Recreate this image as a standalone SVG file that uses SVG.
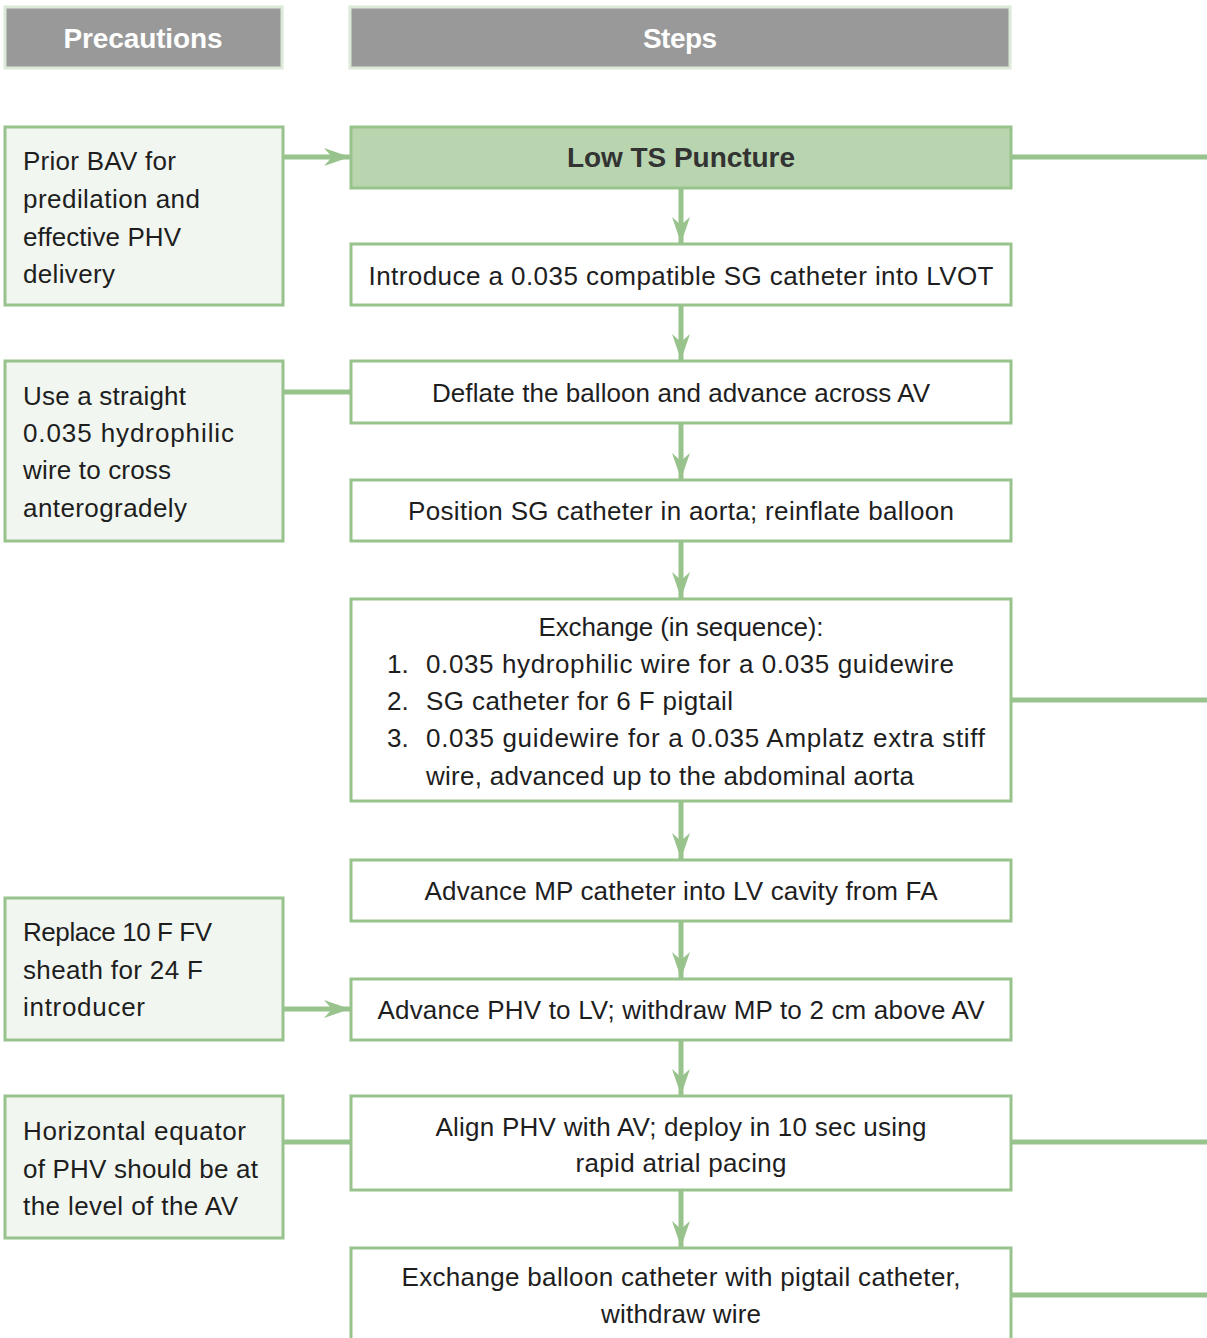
<svg xmlns="http://www.w3.org/2000/svg" width="1207" height="1338" viewBox="0 0 1207 1338">
<style>
.hdr{fill:#999999;stroke:#dce9d8;stroke-width:3}
.hdrt{font-family:"Liberation Sans",Arial,sans-serif;font-size:28px;font-weight:bold;fill:#ffffff;text-anchor:middle}
.pre{fill:#f1f6f0;stroke:#98c38d;stroke-width:3}
.step{fill:#ffffff;stroke:#98c38d;stroke-width:3}
.key{fill:#b9d5b0;stroke:#98c38d;stroke-width:3}
.t{font-family:"Liberation Sans",Arial,sans-serif;font-size:26px;fill:#1e1e1e}
.c{text-anchor:middle}
.b{font-weight:bold;font-size:28px;fill:#333333}
.ln{stroke:#98c38d;stroke-width:5;fill:none}
.ar{stroke:#98c38d;stroke-width:5;fill:none;marker-end:url(#ah)}
</style>
<defs>
<marker id="ah" markerUnits="userSpaceOnUse" markerWidth="30" markerHeight="20" refX="26" refY="10" orient="auto" viewBox="0 0 30 20">
<path d="M0,1 L26,10 L0,19 L8,10 Z" fill="#98c38d"/>
</marker>
</defs>
<rect width="1207" height="1338" fill="#ffffff"/>
<g id="connectors">
<line class="ar" x1="283" y1="157" x2="350" y2="157"/>
<line class="ln" x1="1011" y1="157" x2="1207" y2="157"/>
<line class="ar" x1="681" y1="188" x2="681" y2="243"/>
<line class="ar" x1="681" y1="305" x2="681" y2="360"/>
<line class="ln" x1="283" y1="392" x2="351" y2="392"/>
<line class="ar" x1="681" y1="423" x2="681" y2="479"/>
<line class="ar" x1="681" y1="541" x2="681" y2="598"/>
<line class="ln" x1="1011" y1="700" x2="1207" y2="700"/>
<line class="ar" x1="681" y1="801" x2="681" y2="859"/>
<line class="ar" x1="681" y1="921" x2="681" y2="978"/>
<line class="ar" x1="283" y1="1009" x2="350" y2="1009"/>
<line class="ar" x1="681" y1="1040" x2="681" y2="1095"/>
<line class="ln" x1="283" y1="1142" x2="351" y2="1142"/>
<line class="ln" x1="1011" y1="1142" x2="1207" y2="1142"/>
<line class="ar" x1="681" y1="1190" x2="681" y2="1247"/>
<line class="ln" x1="1011" y1="1295" x2="1207" y2="1295"/>
</g>
<g id="hdr-precautions">
<rect class="hdr" x="5" y="7" width="277" height="61"/>
<text class="hdrt" x="143" y="48" textLength="159">Precautions</text>
</g>
<g id="hdr-steps">
<rect class="hdr" x="350" y="7" width="660" height="61"/>
<text class="hdrt" x="680" y="48" textLength="74">Steps</text>
</g>
<g id="pre1">
<rect class="pre" x="5" y="127" width="278" height="178"/>
<text class="t" x="23" y="170" textLength="153">Prior BAV for</text>
<text class="t" x="23" y="208" textLength="177">predilation and</text>
<text class="t" x="23" y="246" textLength="158">effective PHV</text>
<text class="t" x="23" y="283" textLength="92">delivery</text>
</g>
<g id="pre2">
<rect class="pre" x="5" y="361" width="278" height="180"/>
<text class="t" x="23" y="405" textLength="163">Use a straight</text>
<text class="t" x="23" y="442" textLength="211">0.035 hydrophilic</text>
<text class="t" x="23" y="479" textLength="148">wire to cross</text>
<text class="t" x="23" y="517" textLength="164">anterogradely</text>
</g>
<g id="pre3">
<rect class="pre" x="5" y="898" width="278" height="142"/>
<text class="t" x="23" y="941" textLength="189">Replace 10 F FV</text>
<text class="t" x="23" y="979" textLength="180">sheath for 24 F</text>
<text class="t" x="23" y="1016" textLength="122">introducer</text>
</g>
<g id="pre4">
<rect class="pre" x="5" y="1096" width="278" height="142"/>
<text class="t" x="23" y="1140" textLength="223">Horizontal equator</text>
<text class="t" x="23" y="1178" textLength="235">of PHV should be at</text>
<text class="t" x="23" y="1215" textLength="215">the level of the AV</text>
</g>
<g id="s1">
<rect class="key" x="351" y="127" width="660" height="61"/>
<text class="t c b" x="681" y="167" textLength="228">Low TS Puncture</text>
</g>
<g id="s2">
<rect class="step" x="351" y="244" width="660" height="61"/>
<text class="t c" x="681" y="285" textLength="625">Introduce a 0.035 compatible SG catheter into LVOT</text>
</g>
<g id="s3">
<rect class="step" x="351" y="361" width="660" height="62"/>
<text class="t c" x="681" y="402" textLength="498">Deflate the balloon and advance across AV</text>
</g>
<g id="s4">
<rect class="step" x="351" y="480" width="660" height="61"/>
<text class="t c" x="681" y="520" textLength="546">Position SG catheter in aorta; reinflate balloon</text>
</g>
<g id="s5">
<rect class="step" x="351" y="599" width="660" height="202"/>
<text class="t c" x="681" y="636" textLength="285">Exchange (in sequence):</text>
<text class="t" x="387" y="673">1.</text>
<text class="t" x="426" y="673" textLength="528">0.035 hydrophilic wire for a 0.035 guidewire</text>
<text class="t" x="387" y="710">2.</text>
<text class="t" x="426" y="710" textLength="307">SG catheter for 6 F pigtail</text>
<text class="t" x="387" y="747">3.</text>
<text class="t" x="426" y="747" textLength="559">0.035 guidewire for a 0.035 Amplatz extra stiff</text>
<text class="t" x="426" y="785" textLength="488">wire, advanced up to the abdominal aorta</text>
</g>
<g id="s6">
<rect class="step" x="351" y="860" width="660" height="61"/>
<text class="t c" x="681" y="900" textLength="513">Advance MP catheter into LV cavity from FA</text>
</g>
<g id="s7">
<rect class="step" x="351" y="979" width="660" height="61"/>
<text class="t c" x="681" y="1019" textLength="607">Advance PHV to LV; withdraw MP to 2 cm above AV</text>
</g>
<g id="s8">
<rect class="step" x="351" y="1096" width="660" height="94"/>
<text class="t c" x="681" y="1136" textLength="491">Align PHV with AV; deploy in 10 sec using</text>
<text class="t c" x="681" y="1172" textLength="211">rapid atrial pacing</text>
</g>
<g id="s9">
<rect class="step" x="351" y="1248" width="660" height="110"/>
<text class="t c" x="681" y="1286" textLength="559">Exchange balloon catheter with pigtail catheter,</text>
<text class="t c" x="681" y="1323" textLength="160">withdraw wire</text>
</g>
</svg>
